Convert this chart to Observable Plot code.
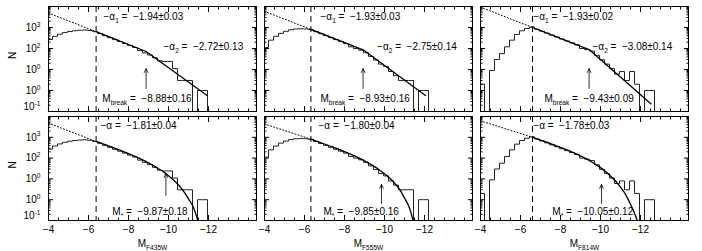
<!DOCTYPE html>
<html><head><meta charset="utf-8">
<script src="https://cdn.jsdelivr.net/npm/d3@7"></script>
<script src="https://cdn.jsdelivr.net/npm/@observablehq/plot@0.6"></script>
<style>
html,body{margin:0;padding:0;background:#fff;}
#chart{position:relative;width:702px;height:251px;overflow:hidden;background:#fff;}
#chart svg{position:absolute;left:0;top:0;overflow:visible;}
</style></head>
<body><div id="chart"></div>
<script>
// ---------------- data ----------------
const filters = ["F435W", "F555W", "F814W"];
// histogram bin edges (magnitudes), 36 bins of 0.25 mag
const binEdges = [-3.95,-4.20,-4.45,-4.70,-4.95,-5.20,-5.45,-5.70,-5.95,-6.20,-6.45,-6.70,-6.95,-7.20,-7.45,-7.70,-7.95,-8.20,-8.45,-8.70,-8.95,-9.20,-9.45,-9.70,-9.95,-10.20,-10.45,-10.70,-10.95,-11.20,-11.45,-11.70,-11.95,-12.20,-12.45,-12.70,-12.95];
const countsF435W = [270,380,480,575,650,700,740,760,720,630, 515,410,330,265,215,173,139,112,80,62, 49,36,26,24,24,11,3,3,3,0, 1,1,0,0,0,0];
const countsF555W = [112,250,380,525,660,775,850,870,850,795, 630,505,410,330,265,215,173,120,100,83, 63,42,28,18,14,8,5,3,3,3, 0,1,1,0,0,0];
const countsF814W = [2,0,9,30,57,120,250,470,700,900, 1050,830,665,540,435,353,283,229,185,150, 100,89,76,47,29,18,11,6,8,3, 8,2,0,1,1,0];

// completeness limits (dashed lines)
const limitMag = [-6.38, -6.32, -6.60];

// double power-law fits (top row): limit, break, bright end
const dplMagF435W = [-6.38, -8.88, -11.93], dplNF435W = [630, 72, 0.58];
const dplMagF555W = [-6.32, -8.93, -12.05], dplNF555W = [810, 87, 0.58];
const dplMagF814W = [-6.60, -9.43, -12.53], dplNF814W = [1000, 89, 0.23];

// dotted extrapolations to the faint end
const extMag = [[-4, -6.38], [-4, -6.32], [-4, -6.60]];
const extNTop = [[4900, 630], [5900, 810], [9300, 1000]];
const extNBottom = [[4800, 630], [4400, 810], [6200, 1000]];

// Schechter fits (bottom row)
const schMagF435W = [-6.38,-7,-7.5,-8,-8.5,-9,-9.5,-9.75,-10,-10.25,-10.5,-10.75,-11,-11.25,-11.47];
const schNF435W   = [630,386,255,164,102,59,31,21.7,14.3,8.9,5.1,2.6,1.1,0.42,0.1];
const schMagF555W = [-6.32,-7,-7.5,-8,-8.5,-9,-9.5,-9.75,-10,-10.25,-10.5,-10.75,-11,-11.25,-11.43];
const schNF555W   = [810,476,316,204,127,74,39,27,17.8,11,6.3,3.2,1.2,0.4,0.1];
const schMagF814W = [-6.6,-7,-7.5,-8,-8.5,-9,-9.5,-10,-10.5,-10.75,-11,-11.25,-11.5,-11.75,-11.83];
const schNF814W   = [1000,736,497,327,209,127,71,34.8,13.9,7.9,4.0,1.8,0.6,0.17,0.1];

// fit parameters / labels
const mBreak = [-8.88, -8.93, -9.43];
const mStar = [-9.87, -9.85, -10.05];
const alpha1Text = ["−1.94±0.03", "−1.93±0.03", "−1.93±0.02"];
const alpha2Text = ["−2.72±0.13", "−2.75±0.14", "−3.08±0.14"];
const mBreakText = ["−8.88±0.16", "−8.93±0.16", "−9.43±0.09"];
const alphaText  = ["−1.81±0.04", "−1.80±0.04", "−1.78±0.03"];
const mStarText  = ["−9.87±0.18", "−9.85±0.16", "−10.05±0.12"];

// axis ticks
const xMajor = [-4, -6, -8, -10, -12];
const xTickLabels = ["−4", "−6", "−8", "−10", "−12"];
const yMajor = [1000, 100, 10, 1, 0.1];
const yTickLabels = ["10^{3}", "10^{2}", "10^{0}", "10^{0}", "10^{-1}"];

// ---------------- layout ----------------
const W = 702, H = 251;
const colLeft = [48, 264, 480], frameW = 208;
const rowTop = [6, 116], frameH = [105, 104];
const FS = 10;
const xMinor = d3.range(-4.5, -14.01, -0.5).filter(v => !xMajor.includes(v));
const yMinor = [0.1, 1, 10, 100, 1000].flatMap(d => [2,3,4,5,6,7,8,9].map(k => k * d));

// annotation anchors (mag, N)
const alpha1X = [-6.75, -6.8, -6.64], alpha2X = [-9.75, -9.63, -9.6], mBreakX = [-6.69, -6.8, -7.2];
const alphaX = [-6.6, -6.7, -6.64], mStarX = [-7.19, -6.95, -7.59];
const arrowTop = [[1.26, 11], [1.26, 11], [1.26, 11]];
const arrowBot = [[1.6, 18], [0.66, 5.4], [0.66, 5.4]];

const counts = [countsF435W, countsF555W, countsF814W];
const dpl = [[dplMagF435W, dplNF435W], [dplMagF555W, dplNF555W], [dplMagF814W, dplNF814W]];
const sch = [[schMagF435W, schNF435W], [schMagF555W, schNF555W], [schMagF814W, schNF814W]];

function histPoints(c) {
  const pts = [{m: binEdges[0], n: 0}];
  c.forEach((v, i) => pts.push({m: binEdges[i], n: v}));
  pts.push({m: binEdges[c.length], n: 0});
  return pts;
}
const pairs = (ms, ns) => ms.map((m, i) => ({m, n: ns[i]}));
const floorN = d => Math.max(d.n, 0.1);

function richify(svg, fs) {
  const NS = "http://www.w3.org/2000/svg";
  svg.querySelectorAll("text").forEach(t => {
    const s = t.textContent;
    if (!/[_^]\{/.test(s)) return;
    const parts = s.split(/([_^]\{[^}]*\})/).filter(p => p.length);
    while (t.firstChild) t.removeChild(t.firstChild);
    let cur = 0;
    for (const p of parts) {
      const m = /^([_^])\{([^}]*)\}$/.exec(p);
      const ts = document.createElementNS(NS, "tspan");
      const target = m ? (m[1] === "^" ? -0.42 * fs : 0.3 * fs) : 0;
      if (m) ts.setAttribute("font-size", (0.66 * fs).toFixed(2));
      ts.textContent = m ? m[2] : p;
      if (target !== cur) ts.setAttribute("dy", (target - cur).toFixed(2));
      cur = target;
      t.appendChild(ts);
    }
  });
}

function panel(col, row) {
  const marks = [];
  marks.push(Plot.line(histPoints(counts[col]), {x: "m", y: floorN, curve: "step-after", stroke: "#222", strokeWidth: 1, clip: true}));
  const extN = row === 0 ? extNTop[col] : extNBottom[col];
  marks.push(Plot.line(pairs(extMag[col], extN), {x: "m", y: "n", stroke: "black", strokeWidth: 1, strokeDasharray: "1,2.2", clip: true}));
  marks.push(Plot.ruleX([limitMag[col]], {x: d => d, stroke: "black", strokeWidth: 1, strokeDasharray: "6,4"}));
  if (row === 0) {
    marks.push(Plot.line(pairs(dpl[col][0], dpl[col][1]), {x: "m", y: "n", stroke: "black", strokeWidth: 1.3, clip: true}));
    marks.push(Plot.arrow([0], {x1: mBreak[col], x2: mBreak[col], y1: arrowTop[col][0], y2: arrowTop[col][1], stroke: "black", strokeWidth: 0.8, headLength: 8, headAngle: 50}));
    marks.push(Plot.text([0], {x: alpha1X[col], y: 3100, text: [`−α_{1} = \u00a0${alpha1Text[col]}`], textAnchor: "start", fill: "black"}));
    marks.push(Plot.text([0], {x: alpha2X[col], y: 125, text: [`−α_{2} = \u00a0${alpha2Text[col]}`], textAnchor: "start", fill: "black"}));
    marks.push(Plot.text([0], {x: mBreakX[col], y: 0.39, text: [`M_{break} = \u00a0${mBreakText[col]}`], textAnchor: "start", fill: "black"}));
  } else {
    marks.push(Plot.line(pairs(sch[col][0], sch[col][1]), {x: "m", y: "n", stroke: "black", strokeWidth: 1.3, curve: "monotone-x", clip: true}));
    marks.push(Plot.arrow([0], {x1: mStar[col], x2: mStar[col], y1: arrowBot[col][0], y2: arrowBot[col][1], stroke: "black", strokeWidth: 0.8, headLength: 8, headAngle: 50}));
    marks.push(Plot.text([0], {x: alphaX[col], y: 3700, text: [`−α = \u00a0${alphaText[col]}`], textAnchor: "start", fill: "black"}));
    marks.push(Plot.text([0], {x: mStarX[col], y: 0.27, text: [`M_{*} = \u00a0${mStarText[col]}`], textAnchor: "start", fill: "black"}));
    marks.push(Plot.text(xMajor, {x: d => d, frameAnchor: "bottom", dy: 12, text: (d, i) => xTickLabels[i], fill: "black"}));
    marks.push(Plot.text([0], {frameAnchor: "bottom", dy: 26, text: [`M_{${filters[col]}}`], fill: "black"}));
  }
  if (col === 0) {
    marks.push(Plot.text(yMajor.slice(0, 4), {y: d => d, frameAnchor: "left", dx: -8, textAnchor: "end", text: (d, i) => yTickLabels[i], fill: "black"}));
    marks.push(Plot.text(yMajor.slice(4), {y: d => d, frameAnchor: "left", dx: -8, dy: -5, textAnchor: "end", text: (d, i) => yTickLabels[4 + i], fill: "black"}));
    marks.push(Plot.text([0], {frameAnchor: "left", dx: -36, rotate: -90, text: ["N"], fill: "black"}));
  }
  for (const anchor of ["bottom", "top"]) {
    marks.push(Plot.axisX({anchor, ticks: xMajor, tickSize: -5, fill: "none", label: null}));
    marks.push(Plot.axisX({anchor, ticks: xMinor, tickSize: -2.5, fill: "none", label: null}));
  }
  for (const anchor of ["left", "right"]) {
    marks.push(Plot.axisY({anchor, ticks: yMajor, tickSize: -5, fill: "none", label: null}));
    marks.push(Plot.axisY({anchor, ticks: yMinor, tickSize: -2.5, fill: "none", label: null}));
  }
  marks.push(Plot.frame({stroke: "black", strokeWidth: 1}));
  const svg = Plot.plot({
    width: W, height: H,
    marginLeft: colLeft[col], marginRight: W - colLeft[col] - frameW,
    marginTop: rowTop[row], marginBottom: H - rowTop[row] - frameH[row],
    x: {domain: [-4, -14.4]},
    y: {type: "log", domain: [0.1, 1e4]},
    style: {background: "transparent", fontFamily: "'Liberation Sans', Arial, Helvetica, sans-serif", fontSize: FS + "px", color: "black", overflow: "visible"},
    marks
  });
  richify(svg, FS);
  return svg;
}

const chart = document.getElementById("chart");
for (let row = 0; row < 2; row++) for (let col = 0; col < 3; col++) chart.appendChild(panel(col, row));
</script>
</body></html>
